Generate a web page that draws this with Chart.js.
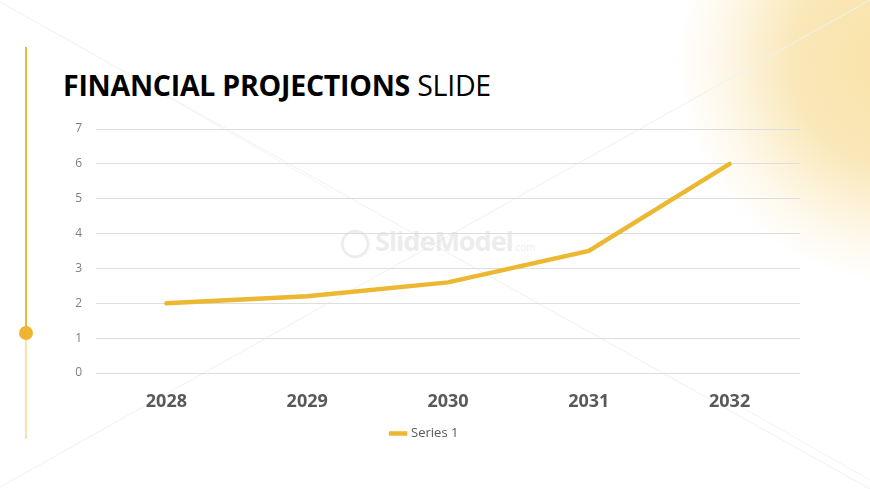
<!DOCTYPE html>
<html>
<head>
<meta charset="utf-8">
<script src="https://cdn.jsdelivr.net/npm/chart.js@4/dist/chart.umd.min.js"></script>
<style>
  html, body { margin: 0; padding: 0; background: #fff; }
  #slide { position: relative; width: 870px; height: 489px; overflow: hidden; background: #fff; }
  #glow {
    position: absolute; left: 680px; top: -160px; width: 440px; height: 440px; border-radius: 50%;
    background: radial-gradient(circle at 50% 50%, rgba(248,224,160,0.95) 0%, rgba(249,228,174,0.85) 35%, rgba(252,240,210,0.45) 58%, rgba(255,255,255,0) 72%);
  }
  #bgLines { position: absolute; left: 0; top: 0; }
  #rail { position: absolute; left: 25px; top: 47px; width: 2px; height: 286px; background: #eeb540; }
  #railLow { position: absolute; left: 25px; top: 333px; width: 2px; height: 106px; background: #f6e2b4; }
  #dot { position: absolute; left: 19px; top: 326px; width: 14px; height: 14px; border-radius: 50%; background: #efb431; }
  #title {
    position: absolute; left: 63px; top: 66px; margin: 0;
    font-family: "Open Sans", sans-serif; font-size: 28.5px; color: #000; letter-spacing: -0.25px;
  }
  #title b { font-weight: 700; }
  #title span { font-weight: 400; }
  #mark {
    position: absolute; left: 340px; top: 222px; font-family: "Open Sans", sans-serif;
    font-weight: 700; font-size: 27px; color: rgba(200,200,200,0.35); letter-spacing: -1px;
  }
  #mark small { font-size: 10px; font-weight: 400; letter-spacing: 0; }
  #wrap { position: absolute; left: 0; top: 0; width: 870px; height: 489px; }
</style>
</head>
<body>
<div id="slide">
  <div id="glow"></div>
  <svg id="bgLines" width="870" height="489">
    <line x1="0" y1="2" x2="870" y2="489" stroke="#f1f1f1" stroke-width="1"/>
    <line x1="870" y1="0" x2="0" y2="487" stroke="#f1f1f1" stroke-width="1"/>
    <line x1="60" y1="35" x2="330" y2="190" stroke="#f4f4f4" stroke-width="1"/>
    <line x1="720" y1="395" x2="870" y2="480" stroke="#f4f4f4" stroke-width="1"/>
  </svg>
  <div id="rail"></div>
  <div id="railLow"></div>
  <div id="dot"></div>
  <h1 id="title"><b>FINANCIAL PROJECTIONS</b> <span>SLIDE</span></h1>
  <div id="mark">&#9711; SlideModel<small>.com</small></div>
  <div id="wrap"><canvas id="chart"></canvas></div>
</div>
<script>
// chart data
const years = ["2028", "2029", "2030", "2031", "2032"];
const series1 = [2, 2.2, 2.6, 3.5, 6];
const yTicks = [0, 1, 2, 3, 4, 5, 6, 7];

function drawChart() {
    const ctx = document.getElementById("chart");

    new Chart(ctx, {
        type: 'line',
        data: {
            labels: years,
            datasets: [{
                label: 'Series 1',
                data: series1,
                borderColor: '#ecb731',
                backgroundColor: '#ecb731',
                borderWidth: 4.5,
                borderCapStyle: 'round',
                pointRadius: 0,
                tension: 0
            }]
        },
        options: {
            responsive: false,
            animation: false,
            layout: {
                padding: { left: 50, right: 70, top: 129, bottom: 39 }
            },
            scales: {
                x: {
                    offset: true,
                    grid: { display: false },
                    border: { display: false },
                    ticks: {
                        color: '#595959',
                        padding: 10,
                        font: { family: 'Open Sans', size: 18, weight: 'bold' }
                    },
                    afterFit: s => { s.height = 44; }
                },
                y: {
                    min: 0,
                    max: yTicks[yTicks.length - 1],
                    afterBuildTicks: s => { s.ticks = yTicks.map(v => ({ value: v })); },
                    grid: { color: '#dedede', drawTicks: false },
                    border: { display: false },
                    ticks: {
                        color: '#7f7f7f',
                        padding: 14,
                        font: { family: 'Open Sans', size: 12 }
                    },
                    afterFit: s => { s.width = 46; }
                }
            },
            plugins: {
                legend: {
                    position: 'bottom',
                    labels: {
                        color: '#595959',
                        usePointStyle: true,
                        pointStyle: 'line',
                        boxWidth: 20,
                        padding: 10,
                        font: { family: 'Open Sans', size: 13 }
                    }
                },
                tooltip: { enabled: false }
            }
        }
    });
}

const c = document.getElementById("chart");
c.width = 870;
c.height = 489;
drawChart();
</script>
</body>
</html>
